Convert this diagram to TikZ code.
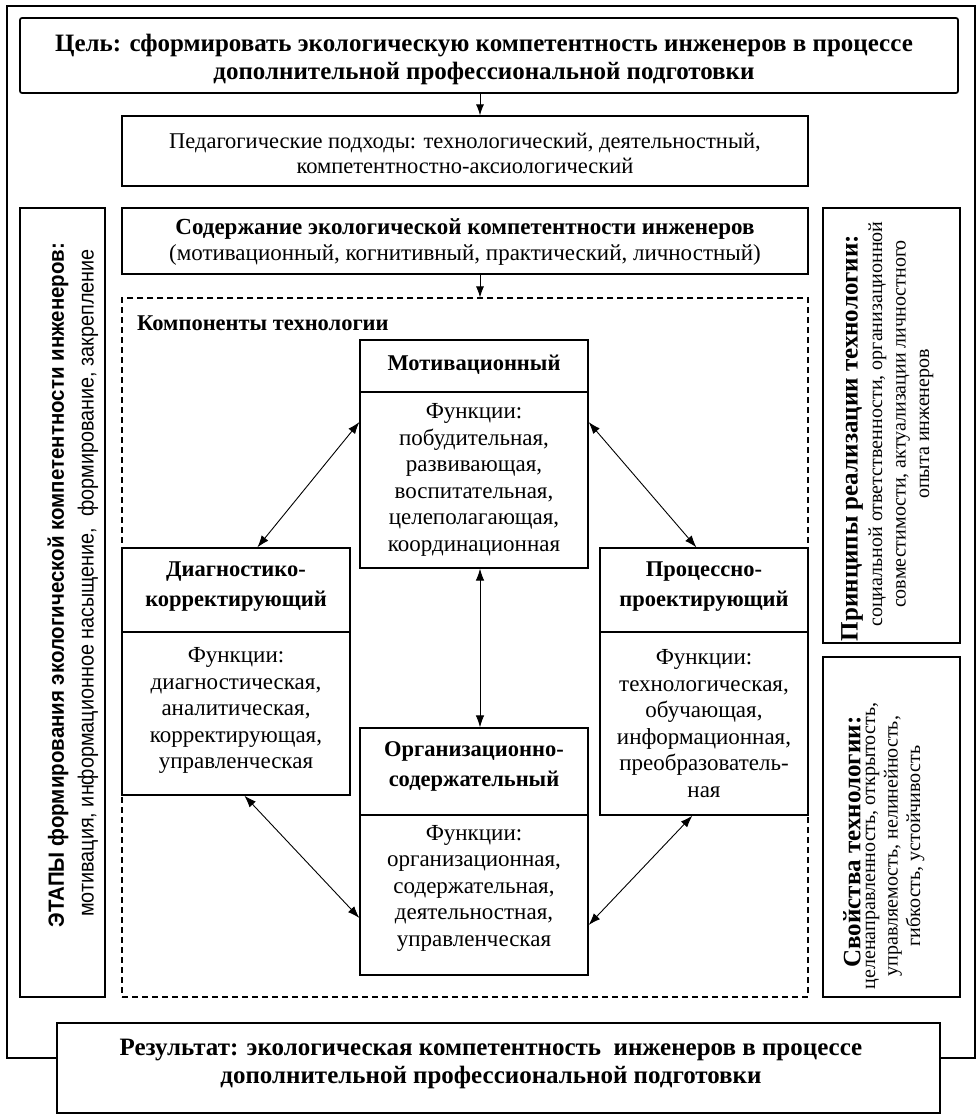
\documentclass[tikz,border=0pt]{standalone}
\usepackage{fontspec}
\setmainfont{Liberation Serif}
\newfontfamily\sansA{Liberation Sans}[FakeStretch=0.93]
\newfontfamily\sansB{Liberation Sans}[FakeStretch=0.9]
\usetikzlibrary{arrows.meta,calc}
\begin{document}
\begin{tikzpicture}[x=1pt,y=-1pt,
  box/.style={draw, line width=1.25pt, inner sep=0pt},
  bigbox/.style={draw, line width=1.7pt, inner sep=0pt, fill=white},
  dbl/.style={{Latex[length=12pt,width=8.5pt]}-{Latex[length=12pt,width=8.5pt]}, line width=0.9pt},
  sgl/.style={-{Latex[length=11pt,width=8pt]}, line width=0.9pt},
  txt/.style={align=center, inner sep=0pt, font=\fontsize{23}{26.5}\selectfont},
  hdr/.style={align=center, inner sep=0pt, font=\fontsize{22.5}{30}\selectfont\bfseries},
]
\useasboundingbox (0,0) rectangle (980,1117);
\fill[white] (0,0) rectangle (980,1117);
% outer frame
\draw[line width=1.7pt] (57,1058) -- (7,1058) -- (7,6) -- (975,6) -- (975,1058) -- (940,1058);
% boxes
\node[bigbox, rounded corners=2pt, minimum width=938, minimum height=75] (goal) at (489,55.5) {};
\node[box, minimum width=686, minimum height=70] (ped) at (465,151) {};
\node[box, minimum width=686, minimum height=66] (cont) at (465,241) {};
\node[box, line width=1.1pt, dash pattern=on 6pt off 4pt, minimum width=686, minimum height=699] (comp) at (465,647.5) {};
\node[box, minimum width=85, minimum height=789] (stages) at (62.5,602.5) {};
\node[box, minimum width=137, minimum height=435] (princ) at (891.5,425.5) {};
\node[box, minimum width=137, minimum height=340] (props) at (891.5,827) {};
\node[bigbox, minimum width=883, minimum height=90] (res) at (498.5,1068) {};
\node[box, minimum width=228, minimum height=228] (mot) at (474,454) {};
\node[box, minimum width=228, minimum height=247] (diag) at (236,671.5) {};
\node[box, minimum width=208, minimum height=267] (proc) at (704,681.5) {};
\node[box, minimum width=228, minimum height=247] (org) at (474,851.5) {};
% dividers
\coordinate (d1) at (0,392); \coordinate (d2) at (0,632); \coordinate (d3) at (0,815);
\draw[line width=1.25pt] (mot.west |- d1) -- (mot.east |- d1);
\draw[line width=1.25pt] (diag.west |- d2) -- (diag.east |- d2);
\draw[line width=1.25pt] (proc.west |- d2) -- (proc.east |- d2);
\draw[line width=1.25pt] (org.west |- d3) -- (org.east |- d3);
% texts
\node[align=center, inner sep=0pt, font=\bfseries\fontsize{25}{28}\selectfont] (goalt) at (484,59) {Цель: сформировать экологическую компетентность инженеров в процессе\\дополнительной профессиональной подготовки};
\node[align=center, inner sep=0pt, font=\fontsize{22.5}{25}\selectfont] (pedt) at (465,153) {Педагогические подходы: технологический, деятельностный,\\компетентностно-аксиологический};
\node[align=center, inner sep=0pt, font=\fontsize{23}{26}\selectfont] (contt) at (465,242) {\textbf{Содержание экологической компетентности инженеров}\\(мотивационный, когнитивный, практический, личностный)};
\node[anchor=west, inner sep=0pt, font=\bfseries\fontsize{22.5}{24}\selectfont] (compt) at (137,323) {Компоненты технологии};
\node[hdr] (moth) at (474,365) {Мотивационный};
\node[txt] (motb) at (474,480) {Функции:\\побудительная,\\развивающая,\\воспитательная,\\целеполагающая,\\координационная};
\node[hdr] (diagh) at (236,587) {Диагностико-\\корректирующий};
\node[txt] (diagb) at (236,710.5) {Функции:\\диагностическая,\\аналитическая,\\корректирующая,\\управленческая};
\node[hdr] (proch) at (704,587) {Процессно-\\проектирующий};
\node[txt] (procb) at (704,723.5) {Функции:\\технологическая,\\обучающая,\\информационная,\\преобразователь-\\ная};
\node[hdr] (orgh) at (474,766) {Организационно-\\содержательный};
\node[txt] (orgb) at (474,888) {Функции:\\организационная,\\содержательная,\\деятельностная,\\управленческая};
\node[rotate=90, inner sep=0pt, font=\sansA\bfseries\fontsize{22}{24}\selectfont] (st1) at (58,585) {ЭТАПЫ формирования экологической компетентности инженеров:};
\node[rotate=90, inner sep=0pt, font=\sansB\fontsize{22}{24}\selectfont] (st2) at (88,583) {мотивация, информационное насыщение,\ \ формирование, закрепление};
\node[rotate=90, inner sep=0pt, font=\bfseries\fontsize{25}{26}\selectfont] (pr1) at (852,438) {Принципы реализации технологии:};
\node[rotate=90, align=center, inner sep=0pt, font=\fontsize{20}{23.5}\selectfont] (pr2) at (901,424) {социальной ответственности, организационной\\совместимости, актуализации личностного\\опыта инженеров};
\node[rotate=90, inner sep=0pt, font=\bfseries\fontsize{25}{26}\selectfont] (sv1) at (852,842) {Свойства технологии:};
\node[rotate=90, align=center, inner sep=0pt, font=\fontsize{20}{22.5}\selectfont] (sv2) at (895,846) {целенаправленность, открытость,\\управляемость, нелинейность,\\гибкость, устойчивость};
\node[align=center, inner sep=0pt, font=\bfseries\fontsize{25}{28}\selectfont] (rest) at (491,1064) {Результат: экологическая компетентность\ \ инженеров в процессе\\дополнительной профессиональной подготовки};
% arrows
\coordinate (ax) at (480,0);
\draw[sgl] (goal.south -| ax) -- (ped.north -| ax);
\draw[sgl] (cont.south -| ax) -- (comp.north -| ax);
\coordinate (ml) at (0,422);
\draw[dbl] (mot.west |- ml) -- ($(diag.north west)+(136,0)$);
\draw[dbl] (mot.east |- ml) -- ($(proc.north west)+(97,0)$);
\draw[dbl] (mot.south -| ax) -- (org.north -| ax);
\coordinate (ol) at (0,918);
\coordinate (or) at (0,925);
\draw[dbl] ($(diag.south west)+(123,0)$) -- (org.west |- ol);
\draw[dbl] ($(proc.south west)+(93,0)$) -- (org.east |- or);
\end{tikzpicture}
\end{document}
